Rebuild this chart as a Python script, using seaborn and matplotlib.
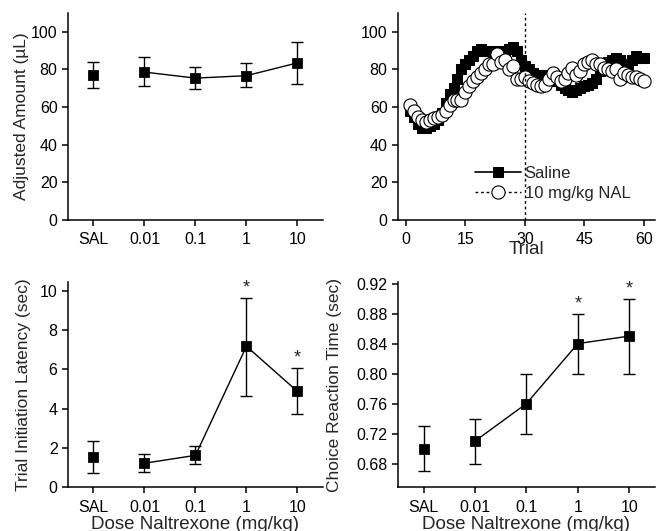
import numpy as np
import pandas as pd
import matplotlib
matplotlib.use("Agg")
import matplotlib.pyplot as plt
import seaborn as sns

#%% DATA

doses = ["SAL", "0.01", "0.1", "1", "10"]

# adjusted amount (uL)
amount_mean = [76.9, 78.6, 75.4, 76.7, 83.5]
amount_lo = [70.1, 71.4, 69.8, 70.5, 72.4]
amount_hi = [84.0, 86.5, 81.1, 83.5, 94.5]

# trial initiation latency (sec)
latency_mean = [1.53, 1.22, 1.62, 7.18, 4.88]
latency_lo = [0.73, 0.75, 1.16, 4.63, 3.71]
latency_hi = [2.35, 1.70, 2.09, 9.63, 6.07]
latency_sig = [False, False, False, True, True]

# choice reaction time (sec)
crt_mean = [0.700, 0.710, 0.760, 0.840, 0.850]
crt_lo = [0.670, 0.680, 0.720, 0.800, 0.800]
crt_hi = [0.730, 0.740, 0.800, 0.880, 0.900]
crt_sig = [False, False, False, True, True]

# adjusted amount across trials
trials = list(range(1, 61))
saline = [58, 55, 51, 49, 49, 50, 51, 53, 57, 62,
          67, 70, 75, 80, 83, 85, 87, 90, 91, 90,
          90, 89, 90, 90, 89, 91, 92, 90, 85, 82,
          80, 78, 77, 77, 77, 77, 75, 74, 72, 70,
          69, 68, 69, 70, 71, 72, 73, 75, 79, 82,
          84, 85, 86, 85, 82, 83, 85, 87, 86, 86]
nal = [61, 58, 55, 53, 52, 53, 54, 55, 56, 58,
       61, 64, 64, 64, 68, 71, 74, 76, 78, 80,
       83, 83, 88, 84, 85, 80, 82, 75, 75, 76,
       74, 73, 72, 71, 72, 75, 78, 76, 74, 75,
       78, 81, 77, 79, 83, 84, 85, 83, 83, 81,
       80, 79, 80, 75, 78, 77, 76, 76, 75, 74]

#%% STYLE

sns.set_style("ticks")
plt.rcParams['font.family'] = ['Liberation Sans', 'DejaVu Sans']
plt.rcParams['axes.linewidth'] = 1.1
plt.rcParams['xtick.major.width'] = 1.1
plt.rcParams['ytick.major.width'] = 1.1
plt.rcParams['xtick.major.size'] = 4
plt.rcParams['ytick.major.size'] = 4
plt.rcParams['xtick.major.pad'] = 5
plt.rcParams['xtick.labelsize'] = 11.5
plt.rcParams['ytick.labelsize'] = 11.5
plt.rcParams['xtick.color'] = 'black'
plt.rcParams['ytick.color'] = 'black'
plt.rcParams['axes.edgecolor'] = 'black'

fig = plt.figure(figsize=(6.57, 5.31), dpi=100)
ax_amt = fig.add_axes([0.1035, 0.5857, 0.388, 0.3898])
ax_trial = fig.add_axes([0.6058, 0.5857, 0.391, 0.3898])
ax_lat = fig.add_axes([0.1035, 0.0826, 0.388, 0.3861])
ax_crt = fig.add_axes([0.6058, 0.0826, 0.391, 0.3861])


def dose_panel(ax, mean, lo, hi, sig=None):
    x = np.arange(len(doses))
    mean = np.array(mean)
    df = pd.DataFrame({"dose": x, "val": mean})
    # saline point is not connected to the dose curve
    sns.lineplot(data=df.iloc[1:], x="dose", y="val", color="black",
                 lw=1, ax=ax)
    yerr = [mean - np.array(lo), np.array(hi) - mean]
    ax.errorbar(x, mean, yerr=yerr, fmt='none', ecolor='black',
                elinewidth=1, capsize=4, capthick=1)
    sns.scatterplot(data=df, x="dose", y="val", marker="s", s=50,
                    color="black", edgecolor="black", ax=ax, zorder=3)
    if sig is not None:
        for xi, h, s in zip(x, hi, sig):
            if s:
                ax.annotate("*", (xi, h), xytext=(0, 1),
                            textcoords="offset points", ha="center",
                            va="bottom", fontsize=13)
    ax.set_xlim(-0.5, 4.5)
    ax.set_xticks(x)
    ax.set_xticklabels(doses)
    ax.set_xlabel("")
    sns.despine(ax=ax)


#%% ADJUSTED AMOUNT

dose_panel(ax_amt, amount_mean, amount_lo, amount_hi)
ax_amt.set_ylim(0, 110)
ax_amt.set_yticks([0, 20, 40, 60, 80, 100])
ax_amt.set_ylabel("Adjusted Amount (\u00b5L)", fontsize=12.5)
ax_amt.yaxis.set_label_coords(-0.153, 0.5)

#%% ACROSS TRIALS

sns.lineplot(x=trials, y=saline, color="black", lw=1.2, marker="s",
             markersize=7, markeredgecolor="black", ax=ax_trial,
             label="Saline")
sns.lineplot(x=trials, y=nal, color="black", lw=1, linestyle=(0, (2, 2)),
             marker="o", markersize=9.5, markerfacecolor="white",
             markeredgecolor="black", markeredgewidth=0.8, ax=ax_trial,
             label="10 mg/kg NAL")
ax_trial.axvline(30, color="black", lw=1, ls=(0, (2, 2)))
ax_trial.set_xlim(-2, 62.8)
ax_trial.set_ylim(0, 110)
ax_trial.set_xticks([0, 15, 30, 45, 60])
ax_trial.set_yticks([0, 20, 40, 60, 80, 100])
ax_trial.set_xlabel("Trial", fontsize=13.5, labelpad=-5)
ax_trial.legend(loc="lower left", bbox_to_anchor=(0.24, 0.02),
                frameon=False, fontsize=12, handlelength=2.8,
                handletextpad=0.2, labelspacing=0.3)
sns.despine(ax=ax_trial)

#%% LATENCY

dose_panel(ax_lat, latency_mean, latency_lo, latency_hi, latency_sig)
ax_lat.set_ylim(0, 10.45)
ax_lat.set_yticks([0, 2, 4, 6, 8, 10])
ax_lat.set_ylabel("Trial Initiation Latency (sec)", fontsize=12.5)
ax_lat.yaxis.set_label_coords(-0.145, 0.5)
ax_lat.set_xlabel("Dose Naltrexone (mg/kg)", fontsize=13.5, labelpad=1)

#%% CHOICE REACTION TIME

dose_panel(ax_crt, crt_mean, crt_lo, crt_hi, crt_sig)
ax_crt.set_ylim(0.6485, 0.922)
ax_crt.set_yticks([0.68, 0.72, 0.76, 0.80, 0.84, 0.88, 0.92])
ax_crt.set_yticklabels(["0.68", "0.72", "0.76", "0.80", "0.84", "0.88", "0.92"])
ax_crt.set_ylabel("Choice Reaction Time (sec)", fontsize=12.5)
ax_crt.yaxis.set_label_coords(-0.218, 0.5)
ax_crt.set_xlabel("Dose Naltrexone (mg/kg)", fontsize=13.5, labelpad=1)

fig.savefig("out.png", dpi=100)
